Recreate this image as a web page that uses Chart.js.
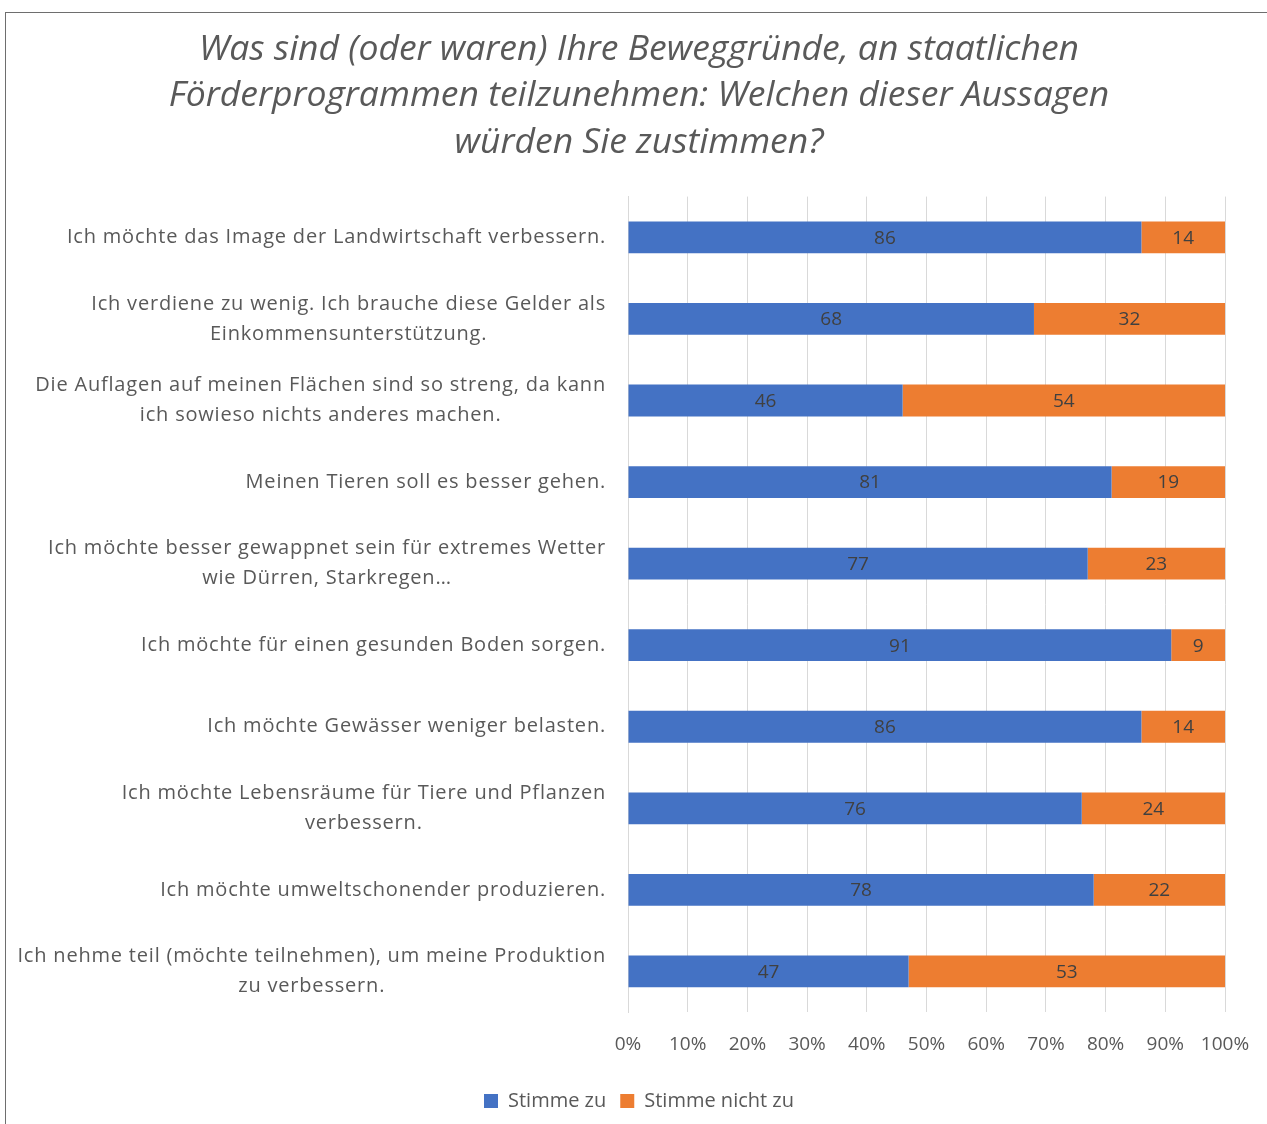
<!DOCTYPE html>
<html>
<head>
<meta charset="utf-8">
<script src="https://cdn.jsdelivr.net/npm/chart.js@4"></script>
<style>
  body { margin: 0; background: #fff; }
  #wrap { position: relative; width: 1267px; height: 1124px; overflow: hidden; }
  #frame { position: absolute; left: 5px; top: 12px; width: 1400px; height: 1300px;
           border-left: 1.5px solid #6e6e6e; border-top: 1.5px solid #6e6e6e; pointer-events: none; }
</style>
</head>
<body>
<div id="wrap">
  <canvas id="chart" width="1267" height="1124"></canvas>
  <div id="frame"></div>
</div>
<script>
// Aussagen (Kategorien)
const categories = [
  "Ich möchte das Image der Landwirtschaft verbessern.",
  ["Ich verdiene zu wenig. Ich brauche diese Gelder als", "Einkommensunterstützung."],
  ["Die Auflagen auf meinen Flächen sind so streng, da kann", "ich sowieso nichts anderes machen."],
  "Meinen Tieren soll es besser gehen.",
  ["Ich möchte besser gewappnet sein für extremes Wetter", "wie Dürren, Starkregen…"],
  "Ich möchte für einen gesunden Boden sorgen.",
  "Ich möchte Gewässer weniger belasten.",
  ["Ich möchte Lebensräume für Tiere und Pflanzen", "verbessern."],
  "Ich möchte umweltschonender produzieren.",
  ["Ich nehme teil (möchte teilnehmen), um meine Produktion", "zu verbessern."]
];
const stimmeZu = [86, 68, 46, 81, 77, 91, 86, 76, 78, 47];
const stimmeNichtZu = [14, 32, 54, 19, 23, 9, 14, 24, 22, 53];
const xTicks = [0, 10, 20, 30, 40, 50, 60, 70, 80, 90, 100];

const FONT = "Open Sans";
const GREY = "#595959";

// labels on the left: block right aligned, lines centred inside the block
const categoryLabels = {
  id: "categoryLabels",
  afterDraw(chart) {
    const ctx = chart.ctx;
    const y = chart.scales.y;
    ctx.save();
    ctx.font = "20px '" + FONT + "'";
    ctx.letterSpacing = "0.8px";
    ctx.fillStyle = GREY;
    ctx.textAlign = "center";
    ctx.textBaseline = "middle";
    const lineH = 30;
    const rightX = 606;
    categories.forEach((lab, i) => {
      const lines = Array.isArray(lab) ? lab : [lab];
      const w = Math.max(...lines.map(l => ctx.measureText(l).width));
      const cx = rightX - w / 2;
      const cy = y.getPixelForTick(i);
      lines.forEach((l, j) => {
        ctx.fillText(l, cx, cy + (j - (lines.length - 1) / 2) * lineH);
      });
    });
    ctx.restore();
  }
};

// value labels in the middle of each segment
const valueLabels = {
  id: "valueLabels",
  afterDatasetsDraw(chart) {
    const ctx = chart.ctx;
    ctx.save();
    ctx.font = "19px '" + FONT + "'";
    ctx.fillStyle = "#404040";
    ctx.textAlign = "center";
    ctx.textBaseline = "middle";
    chart.data.datasets.forEach((ds, di) => {
      chart.getDatasetMeta(di).data.forEach((el, i) => {
        ctx.fillText(String(ds.data[i]), (el.x + el.base) / 2, el.y + 1);
      });
    });
    ctx.restore();
  }
};

new Chart(document.getElementById("chart"), {
  type: "bar",
  data: {
    labels: categories,
    datasets: [
      { label: "Stimme zu", data: stimmeZu, backgroundColor: "#4472C4" },
      { label: "Stimme nicht zu", data: stimmeNichtZu, backgroundColor: "#ED7D31" }
    ]
  },
  options: {
    indexAxis: "y",
    responsive: false,
    animation: false,
    layout: { padding: { top: 14, right: 42, left: 53, bottom: 3 } },
    datasets: { bar: { barPercentage: 0.39, categoryPercentage: 1 } },
    scales: {
      x: {
        stacked: true,
        min: 0,
        max: 100,
        afterBuildTicks(scale) { scale.ticks = xTicks.map(v => ({ value: v })); },
        afterFit(scale) { scale.paddingRight = 20; },
        ticks: {
          callback: v => v + "%",
          color: GREY,
          font: { family: FONT, size: 19 },
          padding: 21
        },
        grid: { color: "#D9D9D9", drawTicks: false },
        border: { display: false }
      },
      y: {
        stacked: true,
        ticks: { display: false },
        grid: { display: false },
        border: { display: true, color: "#D9D9D9" },
        afterFit(scale) { scale.width = 628 - 53; }
      }
    },
    plugins: {
      title: {
        display: true,
        text: [
          "Was sind (oder waren) Ihre Beweggründe, an staatlichen",
          "Förderprogrammen teilzunehmen: Welchen dieser Aussagen",
          "würden Sie zustimmen?"
        ],
        color: GREY,
        font: { family: FONT, size: 35.5, style: "italic", weight: "normal", lineHeight: 1.32 },
        padding: { top: 12, bottom: 30 }
      },
      legend: {
        position: "bottom",
        labels: {
          color: GREY,
          font: { family: FONT, size: 20, lineHeight: 1 },
          boxWidth: 14,
          boxHeight: 14,
          padding: 14
        }
      },
      tooltip: { enabled: false }
    }
  },
  plugins: [categoryLabels, valueLabels]
});
</script>
</body>
</html>
